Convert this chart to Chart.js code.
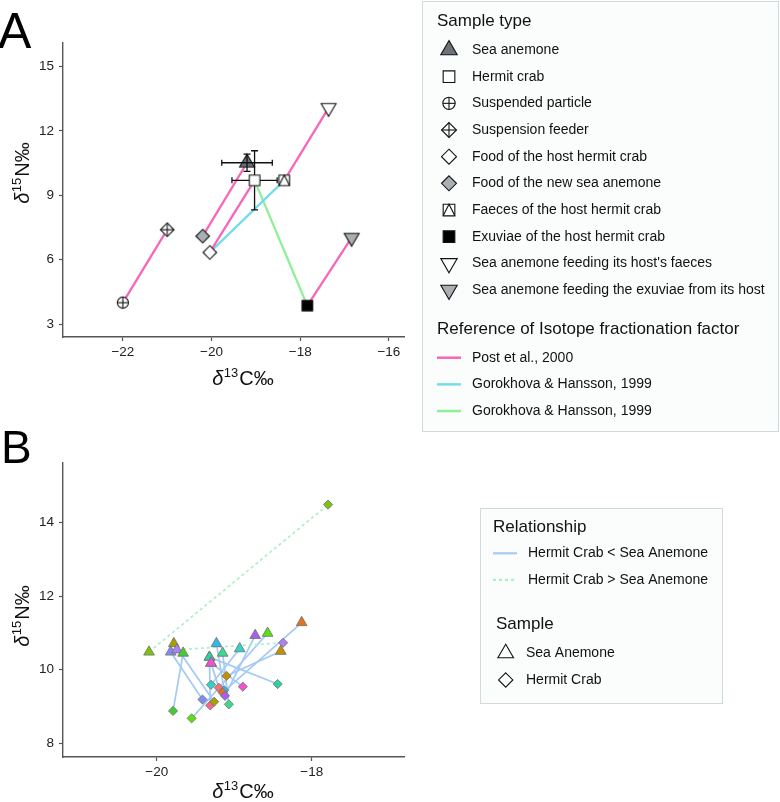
<!DOCTYPE html>
<html><head><meta charset="utf-8">
<script src="https://cdn.jsdelivr.net/npm/chart.js@4.4.1/dist/chart.umd.min.js"></script>
<style>
html,body{margin:0;padding:0;background:#fff;}
#wrap{position:relative;width:780px;height:802px;overflow:hidden;background:#fff;}
canvas{position:absolute;left:0;top:0;}
</style></head><body>
<div id="wrap"><canvas id="cA" width="780" height="802"></canvas><canvas id="cB" width="780" height="802"></canvas></div>
<script>
// ================= Panel A data =================
const sampleTypes = ['Sea anemone', 'Hermit crab', 'Suspended particle', 'Suspension feeder',
  'Food of the host hermit crab', 'Food of the new sea anemone', 'Faeces of the host hermit crab',
  'Exuviae of the host hermit crab', "Sea anemone feeding its host's faeces",
  'Sea anemone feeding the exuviae from its host'];
const sampleC = [-19.20, -19.03, -22.00, -21.00, -20.04, -20.20, -18.36, -17.84, -17.36, -16.84];
const sampleN = [10.52, 9.70, 4.00, 7.40, 6.34, 7.10, 9.70, 3.86, 13.08, 7.03];
const sampleCsd = [0.57, 0.51, null, null, null, null, null, null, null, null];
const sampleNsd = [0.40, 1.38, null, null, null, null, null, null, null, null];
const linkFrom = [2, 5, 4, 6, 7, 4, 1];
const linkTo = [3, 0, 1, 8, 9, 6, 7];
const linkRef = [0, 0, 0, 0, 0, 1, 2];
const references = ['Post et al., 2000', 'Gorokhova & Hansson, 1999', 'Gorokhova & Hansson, 1999'];
const xTicksA = [-22, -20, -18, -16];
const yTicksA = [3, 6, 9, 12, 15];

// ================= Panel B data =================
const anemoneC = [-19.30, -19.32, -20.10, -19.78, -19.82, -19.74, -19.66, -19.32, -19.23, -19.15, -19.30, -18.93, -18.40, -18.57, -18.13, -18.73];
const anemoneN = [10.18, 10.34, 10.48, 10.71, 10.48, 10.54, 10.45, 10.34, 10.71, 10.45, 10.18, 10.57, 10.50, 10.99, 11.28, 10.93];
const crabC = [-19.20, -19.31, -17.79, -19.26, -19.41, -18.37, -19.79, -18.44, -19.13, -19.07, -18.89, -19.30, -19.10, -19.55, -19.15, -19.12];
const crabN = [9.51, 9.03, 14.48, 9.13, 9.19, 10.73, 8.88, 9.61, 9.44, 9.06, 9.54, 9.59, 9.83, 8.68, 9.38, 9.29];
const relationships = ['Hermit Crab < Sea Anemone', 'Hermit Crab > Sea Anemone'];
const samplesB = ['Sea Anemone', 'Hermit Crab'];
const xTicksB = [-20, -18];
const yTicksB = [8, 10, 12, 14];

// ================= styles =================
const FONT = '"Liberation Sans", Arial, Helvetica, sans-serif';
const refColors = ['#F766B9', '#74DCEA', '#8FEF98'];
const pairColors = ['#F4707A', '#F86595', '#7CC40C', '#A9A000', '#7F8CF2', '#AE80F2', '#46CB33', '#2ED0A2',
  '#35B6EA', '#3CD98E', '#F052D2', '#33CFCB', '#C39000', '#5BE012', '#E2741F', '#A660EE'];
const relColors = ['#A4C9F4', '#A6F2C6'];
const symA = [
  {shape: 'triUp', fill: '#6B7378'}, {shape: 'square', fill: '#ffffff'}, {shape: 'circlePlus', fill: '#ffffff'},
  {shape: 'diamondPlus', fill: '#ffffff'}, {shape: 'diamond', fill: '#ffffff'}, {shape: 'diamond', fill: '#A9AFB2'},
  {shape: 'squareTri', fill: '#ffffff'}, {shape: 'square', fill: '#000000'}, {shape: 'triDown', fill: '#ffffff'},
  {shape: 'triDown', fill: '#A9AFB2'}];

function drawSym(g, s, x, y, k) {
  k = k || 1;
  g.save();
  g.lineWidth = 1.1; g.strokeStyle = '#111'; g.fillStyle = s.fill; g.lineJoin = 'miter';
  g.beginPath();
  const extra = [];
  if (s.shape === 'triUp' || s.shape === 'triDown') {
    const r = 8.6 * k, d = s.shape === 'triUp' ? 1 : -1;
    g.moveTo(x, y - d * r); g.lineTo(x + r * 0.866, y + d * r / 2); g.lineTo(x - r * 0.866, y + d * r / 2); g.closePath();
  } else if (s.shape === 'square' || s.shape === 'squareTri') {
    const h = 5.3 * k;
    g.rect(x - h, y - h, 2 * h, 2 * h);
    if (s.shape === 'squareTri') extra.push([[x - h, y + h], [x, y - h], [x + h, y + h]]);
  } else if (s.shape === 'diamond' || s.shape === 'diamondPlus') {
    const h = 6.8 * k;
    g.moveTo(x, y - h); g.lineTo(x + h, y); g.lineTo(x, y + h); g.lineTo(x - h, y); g.closePath();
    if (s.shape === 'diamondPlus') { extra.push([[x, y - h], [x, y + h]]); extra.push([[x - h, y], [x + h, y]]); }
  } else if (s.shape === 'circlePlus') {
    const r = 5.6 * k;
    g.arc(x, y, r, 0, Math.PI * 2);
    extra.push([[x, y - r], [x, y + r]]); extra.push([[x - r, y], [x + r, y]]);
  }
  g.fill(); g.stroke();
  extra.forEach(p => { g.beginPath(); g.moveTo(p[0][0], p[0][1]); for (let i = 1; i < p.length; i++) g.lineTo(p[i][0], p[i][1]); g.stroke(); });
  g.restore();
}
function symImage(s) {
  const c = document.createElement('canvas'); c.width = 22; c.height = 22;
  drawSym(c.getContext('2d'), s, 11, 11, 1); return c;
}
function fmtTick(v) { return (v < 0 ? '\u2212' : '') + Math.abs(v); }
function isoTitle(ctx, cx, cy, mass, el, rot) {
  const fs = 20, ss = 13;
  ctx.save();
  ctx.translate(cx, cy); if (rot) ctx.rotate(-Math.PI / 2);
  ctx.fillStyle = '#111'; ctx.textBaseline = 'alphabetic'; ctx.textAlign = 'left';
  const fI = 'italic ' + fs + 'px ' + FONT, fR = fs + 'px ' + FONT, fS = ss + 'px ' + FONT;
  ctx.font = fI; const w1 = ctx.measureText('\u03b4').width;
  ctx.font = fS; const w2 = ctx.measureText(mass).width;
  ctx.font = fR; const w3 = ctx.measureText(el + '\u2030').width;
  const total = w1 + w2 + w3 + 1.5;
  let x = -total / 2; const base = fs * 0.36;
  ctx.font = fI; ctx.fillText('\u03b4', x, base); x += w1 + 0.5;
  ctx.font = fS; ctx.fillText(mass, x, base - fs * 0.42); x += w2 + 1;
  ctx.font = fR; ctx.fillText(el + '\u2030', x, base);
  ctx.restore();
}
function axisOpts(min, max, ticks, isY, fitSize) {
  return {
    type: 'linear', min: min, max: max,
    afterBuildTicks: s => { s.ticks = ticks.map(v => ({value: v})); },
    afterFit: s => { if (isY) s.width = fitSize; else s.height = fitSize; },
    grid: {display: true, drawOnChartArea: false, drawTicks: true, tickLength: 4, color: '#555', tickWidth: 1.2},
    border: {display: true, color: '#555', width: 1.4},
    ticks: {font: {size: 13.5, family: FONT}, color: '#222', padding: isY ? 5 : 3, callback: fmtTick,
      maxRotation: 0, autoSkip: false}
  };
}

// ================= Chart A =================
const dsA = [];
for (let i = 0; i < linkFrom.length; i++) {
  dsA.push({label: 'link' + i, showLine: true, borderColor: refColors[linkRef[i]], borderWidth: 2.3,
    pointRadius: 0, order: 100,
    data: [{x: sampleC[linkFrom[i]], y: sampleN[linkFrom[i]]}, {x: sampleC[linkTo[i]], y: sampleN[linkTo[i]]}]});
}
sampleTypes.forEach((name, i) => {
  dsA.push({label: name, data: [{x: sampleC[i], y: sampleN[i]}], pointStyle: symImage(symA[i]),
    pointRadius: 8, order: i === 0 ? 40 : (i === 1 ? 10 : 50)});
});
const pluginA = {
  id: 'panelA',
  beforeDatasetDraw(chart, args) {
    if (chart.data.datasets[args.index].label !== sampleTypes[1]) return;
    const ctx = chart.ctx, xs = chart.scales.x, ys = chart.scales.y;
    ctx.save(); ctx.strokeStyle = '#111'; ctx.lineWidth = 1.3;
    for (let i = 0; i < sampleTypes.length; i++) {
      if (sampleCsd[i] == null) continue;
      const px = xs.getPixelForValue(sampleC[i]), py = ys.getPixelForValue(sampleN[i]);
      const x0 = xs.getPixelForValue(sampleC[i] - sampleCsd[i]), x1 = xs.getPixelForValue(sampleC[i] + sampleCsd[i]);
      const y0 = ys.getPixelForValue(sampleN[i] - sampleNsd[i]), y1 = ys.getPixelForValue(sampleN[i] + sampleNsd[i]);
      ctx.beginPath();
      ctx.moveTo(x0, py); ctx.lineTo(x1, py);
      ctx.moveTo(x0, py - 3); ctx.lineTo(x0, py + 3); ctx.moveTo(x1, py - 3); ctx.lineTo(x1, py + 3);
      ctx.moveTo(px, y0); ctx.lineTo(px, y1);
      ctx.moveTo(px - 3.5, y0); ctx.lineTo(px + 3.5, y0); ctx.moveTo(px - 3.5, y1); ctx.lineTo(px + 3.5, y1);
      ctx.stroke();
    }
    ctx.restore();
  },
  afterDraw(chart) {
    const ctx = chart.ctx;
    ctx.save();
    ctx.fillStyle = '#000'; ctx.font = '50px ' + FONT; ctx.textBaseline = 'alphabetic'; ctx.textAlign = 'left';
    ctx.fillText('A', -2, 48);
    isoTitle(ctx, 22, 173, '15', 'N', true);
    isoTitle(ctx, 243, 378, '13', 'C', false);
    // legend
    ctx.fillStyle = '#FBFCFC'; ctx.fillRect(422.5, 1.5, 356, 430);
    ctx.strokeStyle = '#D3DADC'; ctx.lineWidth = 1; ctx.strokeRect(422.5, 1.5, 356, 430);
    ctx.fillStyle = '#111'; ctx.textBaseline = 'middle';
    ctx.font = '17px ' + FONT; ctx.fillText('Sample type', 437, 21);
    ctx.font = '14px ' + FONT;
    sampleTypes.forEach((name, i) => {
      const y = 50 + i * 26.67;
      drawSym(ctx, symA[i], 449, y, 1.1);
      ctx.fillStyle = '#111'; ctx.fillText(name, 472, y);
    });
    ctx.font = '17px ' + FONT; ctx.fillText('Reference of Isotope fractionation factor', 437, 329);
    ctx.font = '14px ' + FONT;
    references.forEach((r, i) => {
      const y = 357.7 + i * 26.67;
      ctx.strokeStyle = refColors[i]; ctx.lineWidth = 2.5;
      ctx.beginPath(); ctx.moveTo(437, y); ctx.lineTo(461, y); ctx.stroke();
      ctx.fillStyle = '#111'; ctx.fillText(r, 472, y);
    });
    ctx.restore();
  }
};
new Chart(document.getElementById('cA'), {
  type: 'scatter',
  data: {datasets: dsA},
  options: {
    responsive: false, animation: false, events: [],
    layout: {padding: {left: 0, top: 43, right: 376, bottom: 802 - 337 - 40}},
    plugins: {legend: {display: false}, tooltip: {enabled: false}},
    scales: {
      x: axisOpts(-23.35, -15.66, xTicksA, false, 40),
      y: axisOpts(2.4, 16.1, yTicksA, true, 63)
    }
  },
  plugins: [pluginA]
});

// ================= Chart B =================
const dsB = [];
for (let i = 0; i < anemoneC.length; i++) {
  const rel = crabN[i] > anemoneN[i] ? 1 : 0;
  dsB.push({label: 'pair' + i, showLine: true, borderColor: relColors[rel], borderWidth: 1.7,
    borderDash: rel ? [3, 3] : [], pointRadius: 0, order: 100,
    data: [{x: anemoneC[i], y: anemoneN[i]}, {x: crabC[i], y: crabN[i]}]});
}
dsB.push({label: samplesB[0], data: anemoneC.map((c, i) => ({x: c, y: anemoneN[i]})), pointStyle: 'triangle',
  pointRadius: 6.2, backgroundColor: pairColors, borderColor: '#707070', borderWidth: 0.8, order: 20});
dsB.push({label: samplesB[1], data: crabC.map((c, i) => ({x: c, y: crabN[i]})), pointStyle: 'rectRot',
  pointRadius: 4.6, backgroundColor: pairColors, borderColor: '#707070', borderWidth: 0.8, order: 10});
const pluginB = {
  id: 'panelB',
  afterDraw(chart) {
    const ctx = chart.ctx;
    ctx.save();
    ctx.fillStyle = '#000'; ctx.font = '46px ' + FONT; ctx.textBaseline = 'alphabetic'; ctx.textAlign = 'left';
    ctx.fillText('B', 1, 463);
    isoTitle(ctx, 22, 616, '15', 'N', true);
    isoTitle(ctx, 243, 791, '13', 'C', false);
    ctx.fillStyle = '#FBFCFC'; ctx.fillRect(480.5, 508.5, 242, 195);
    ctx.strokeStyle = '#D3DADC'; ctx.lineWidth = 1; ctx.strokeRect(480.5, 508.5, 242, 195);
    ctx.fillStyle = '#111'; ctx.textBaseline = 'middle';
    ctx.font = '17px ' + FONT; ctx.fillText('Relationship', 493, 527);
    ctx.font = '14px ' + FONT;
    relationships.forEach((r, i) => {
      const y = 553.3 + i * 26.67;
      ctx.strokeStyle = relColors[i]; ctx.lineWidth = 2.2; ctx.setLineDash(i ? [3, 3] : []);
      ctx.beginPath(); ctx.moveTo(493, y); ctx.lineTo(517, y); ctx.stroke();
      ctx.setLineDash([]);
      ctx.fillStyle = '#111'; ctx.fillText(r, 528, y);
    });
    ctx.font = '17px ' + FONT; ctx.fillText('Sample', 496, 624);
    ctx.font = '14px ' + FONT;
    samplesB.forEach((s, i) => {
      const y = 653.3 + i * 26.67;
      drawSym(ctx, {shape: i ? 'diamond' : 'triUp', fill: '#ffffff'}, 505.7, y, 1.05);
      ctx.fillStyle = '#111'; ctx.fillText(s, 526, y);
    });
    ctx.restore();
  }
};
new Chart(document.getElementById('cB'), {
  type: 'scatter',
  data: {datasets: dsB},
  options: {
    responsive: false, animation: false, events: [],
    layout: {padding: {left: 0, top: 463, right: 376, bottom: 802 - 757 - 40}},
    plugins: {legend: {display: false}, tooltip: {enabled: false}},
    scales: {
      x: axisOpts(-21.21, -16.81, xTicksB, false, 40),
      y: axisOpts(7.63, 15.61, yTicksB, true, 63)
    }
  },
  plugins: [pluginB]
});
</script>
</body></html>
